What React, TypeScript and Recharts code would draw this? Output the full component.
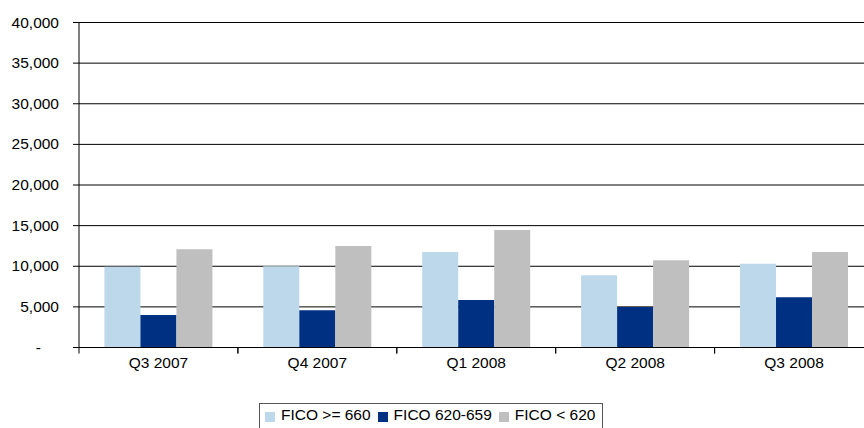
import React from 'react';
import { BarChart, Bar, XAxis, YAxis, CartesianGrid, Legend } from 'recharts';

// Quarterly counts by FICO band
const quarters = ['Q3 2007', 'Q4 2007', 'Q1 2008', 'Q2 2008', 'Q3 2008'];
const ficoHigh = [9950, 10000, 11750, 8900, 10300];
const ficoMid = [4000, 4600, 5850, 5000, 6200];
const ficoLow = [12100, 12500, 14450, 10750, 11750];
const yTicks = [0, 5000, 10000, 15000, 20000, 25000, 30000, 35000, 40000];

const seriesNames = ['FICO >= 660', 'FICO 620-659', 'FICO < 620'];
const seriesColors = ['#BED8EB', '#003082', '#BFBFBF'];

const data = quarters.map((q, i) => ({
  quarter: q,
  high: ficoHigh[i],
  mid: ficoMid[i],
  low: ficoLow[i],
}));

const FONT = '"Liberation Sans", Arial, sans-serif';
const FS = 15.5;

const YTick = (props: any) => {
  const { x, y, payload } = props;
  const v = payload.value as number;
  const label = v === 0 ? '-' : v.toLocaleString('en-US');
  return (
    <text
      x={v === 0 ? x - 18 : x}
      y={y}
      dy={5}
      textAnchor="end"
      fontSize={FS}
      fontFamily={FONT}
      fill="#000"
    >
      {label}
    </text>
  );
};

// Category label at the band centre plus tick marks at the band boundaries
const XTick = (props: any) => {
  const { x, y, payload, width, visibleTicksCount } = props;
  const half = width / visibleTicksCount / 2;
  const axisY = y - 8;
  return (
    <g>
      <line x1={x - half} x2={x - half} y1={axisY} y2={axisY + 6} stroke="#000" strokeWidth={1} />
      <line x1={x + half} x2={x + half} y1={axisY} y2={axisY + 6} stroke="#000" strokeWidth={1} />
      <text x={x} y={y} dy={12} textAnchor="middle" fontSize={FS} fontFamily={FONT} fill="#000">
        {payload.value}
      </text>
    </g>
  );
};

const LegendBox = () => (
  <div
    style={{
      display: 'flex',
      alignItems: 'center',
      border: '1px solid #555',
      padding: '2px 8px 6px 5px',
      fontFamily: FONT,
      fontSize: FS,
      color: '#000',
      whiteSpace: 'nowrap',
      background: '#fff',
      boxSizing: 'border-box',
      width: 344,
    }}
  >
    {seriesNames.map((name, i) => (
      <span key={name} style={{ display: 'flex', alignItems: 'center', marginRight: i < 2 ? 7 : 0 }}>
        <span
          style={{
            display: 'inline-block',
            width: 10,
            height: 10,
            background: seriesColors[i],
            marginRight: 6,
            marginTop: 3,
          }}
        />
        <span>{name}</span>
      </span>
    ))}
  </div>
);

export default function App() {
  return (
    <div
      style={{
        position: 'fixed',
        left: 0,
        top: 0,
        width: 864,
        height: 428,
        overflow: 'hidden',
        background: '#fff',
      }}
    >
      <BarChart
        width={900}
        height={428}
        data={data}
        margin={{ top: 22.5, right: 26.5, left: 0, bottom: 50.5 }}
        barCategoryGap="16%"
        barGap={0}
      >
        <CartesianGrid vertical={false} stroke="#000" />
        <XAxis
          dataKey="quarter"
          height={30}
          tickLine={false}
          tickSize={6}
          tickMargin={2}
          axisLine={{ stroke: '#000' }}
          tick={<XTick />}
          interval={0}
        />
        <YAxis
          width={79}
          domain={[0, 40000]}
          ticks={yTicks}
          interval={0}
          tickSize={6}
          tickMargin={14}
          tickLine={{ stroke: '#000' }}
          axisLine={{ stroke: '#000' }}
          tick={<YTick />}
        />
        <Legend
          layout="horizontal"
          verticalAlign="middle"
          align="center"
          content={<LegendBox />}
          wrapperStyle={{ left: 259, top: 403, width: 344, height: 30 }}
        />
        <Bar dataKey="high" name={seriesNames[0]} fill={seriesColors[0]} isAnimationActive={false} />
        <Bar dataKey="mid" name={seriesNames[1]} fill={seriesColors[1]} isAnimationActive={false} />
        <Bar dataKey="low" name={seriesNames[2]} fill={seriesColors[2]} isAnimationActive={false} />
      </BarChart>
    </div>
  );
}
